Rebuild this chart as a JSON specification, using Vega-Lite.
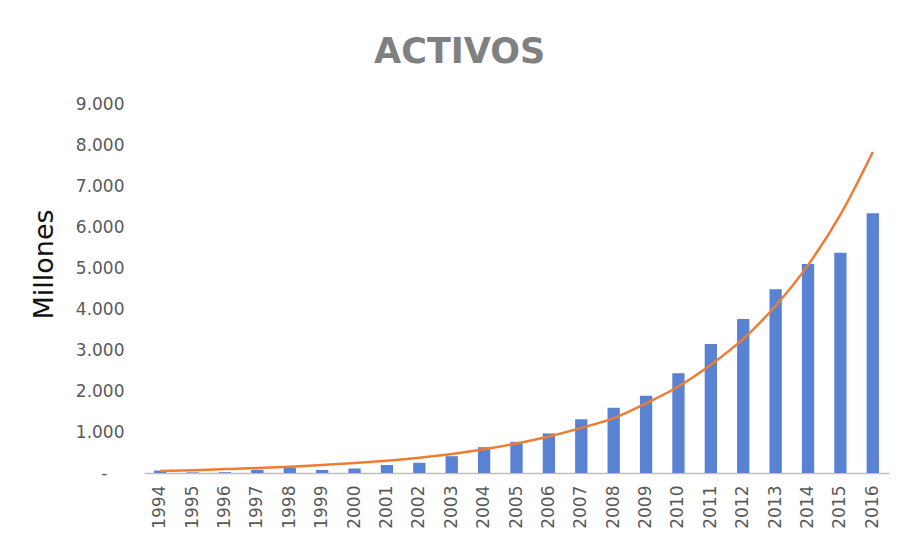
{
  "$schema": "https://vega.github.io/schema/vega-lite/v6.json",
  "autosize": {"type": "none"},
  "padding": {"left": 144, "top": 104, "right": 28, "bottom": 81},
  "width": 745,
  "height": 369,
  "background": "white",
  "config": {"view": {"stroke": null}},
  "title": {
    "text": "ACTIVOS",
    "font": "DejaVu Sans",
    "fontSize": 35,
    "fontWeight": "bold",
    "color": "#808080",
    "anchor": "middle",
    "frame": "bounds",
    "offset": 25
  },
  "data": {
    "values": [
      {"year": "1994", "activos": 60, "trend": 50},
      {"year": "1995", "activos": 15, "trend": 70},
      {"year": "1996", "activos": 20, "trend": 95},
      {"year": "1997", "activos": 80, "trend": 122},
      {"year": "1998", "activos": 130, "trend": 155},
      {"year": "1999", "activos": 75, "trend": 194},
      {"year": "2000", "activos": 110, "trend": 241},
      {"year": "2001", "activos": 195, "trend": 300},
      {"year": "2002", "activos": 250, "trend": 373},
      {"year": "2003", "activos": 410, "trend": 464},
      {"year": "2004", "activos": 630, "trend": 578},
      {"year": "2005", "activos": 760, "trend": 718},
      {"year": "2006", "activos": 965, "trend": 890},
      {"year": "2007", "activos": 1310, "trend": 1100},
      {"year": "2008", "activos": 1590, "trend": 1340},
      {"year": "2009", "activos": 1885, "trend": 1700},
      {"year": "2010", "activos": 2430, "trend": 2110},
      {"year": "2011", "activos": 3145, "trend": 2640},
      {"year": "2012", "activos": 3755, "trend": 3270},
      {"year": "2013", "activos": 4480, "trend": 4080},
      {"year": "2014", "activos": 5100, "trend": 5070},
      {"year": "2015", "activos": 5375, "trend": 6300},
      {"year": "2016", "activos": 6335, "trend": 7830}
    ]
  },
  "encoding": {
    "x": {
      "field": "year",
      "type": "ordinal",
      "scale": {"paddingInner": 0.62, "paddingOuter": 0.31},
      "axis": {
        "title": null,
        "labelAngle": -90,
        "labelFont": "DejaVu Sans",
        "labelFontSize": 17,
        "labelColor": "#595959",
        "labelPadding": 12,
        "ticks": false,
        "domainColor": "#bfbfbf",
        "domainWidth": 1.5,
        "grid": false
      }
    }
  },
  "layer": [
    {
      "mark": {"type": "bar", "color": "#5a82d2"},
      "encoding": {
        "y": {
          "field": "activos",
          "type": "quantitative",
          "scale": {"domain": [0, 9000], "nice": false},
          "axis": {
            "title": "Millones",
            "titleFont": "DejaVu Sans",
            "titleFontSize": 27,
            "titleFontWeight": "normal",
            "titleColor": "#111111",
            "titlePadding": 17,
            "titleY": 160,
            "values": [0, 1000, 2000, 3000, 4000, 5000, 6000, 7000, 8000, 9000],
            "labelExpr": "datum.value == 0 ? '-' : replace(format(datum.value, ','), ',', '.')",
            "labelFont": "DejaVu Sans",
            "labelFontSize": 17,
            "labelColor": "#595959",
            "labelPadding": {"condition": {"test": "datum.value == 0", "value": 37}, "value": 20},
            "ticks": false,
            "domain": false,
            "grid": false
          }
        }
      }
    },
    {
      "mark": {"type": "line", "color": "#ed7d31", "strokeWidth": 2.5, "interpolate": "monotone"},
      "encoding": {
        "y": {"field": "trend", "type": "quantitative"}
      }
    }
  ]
}
